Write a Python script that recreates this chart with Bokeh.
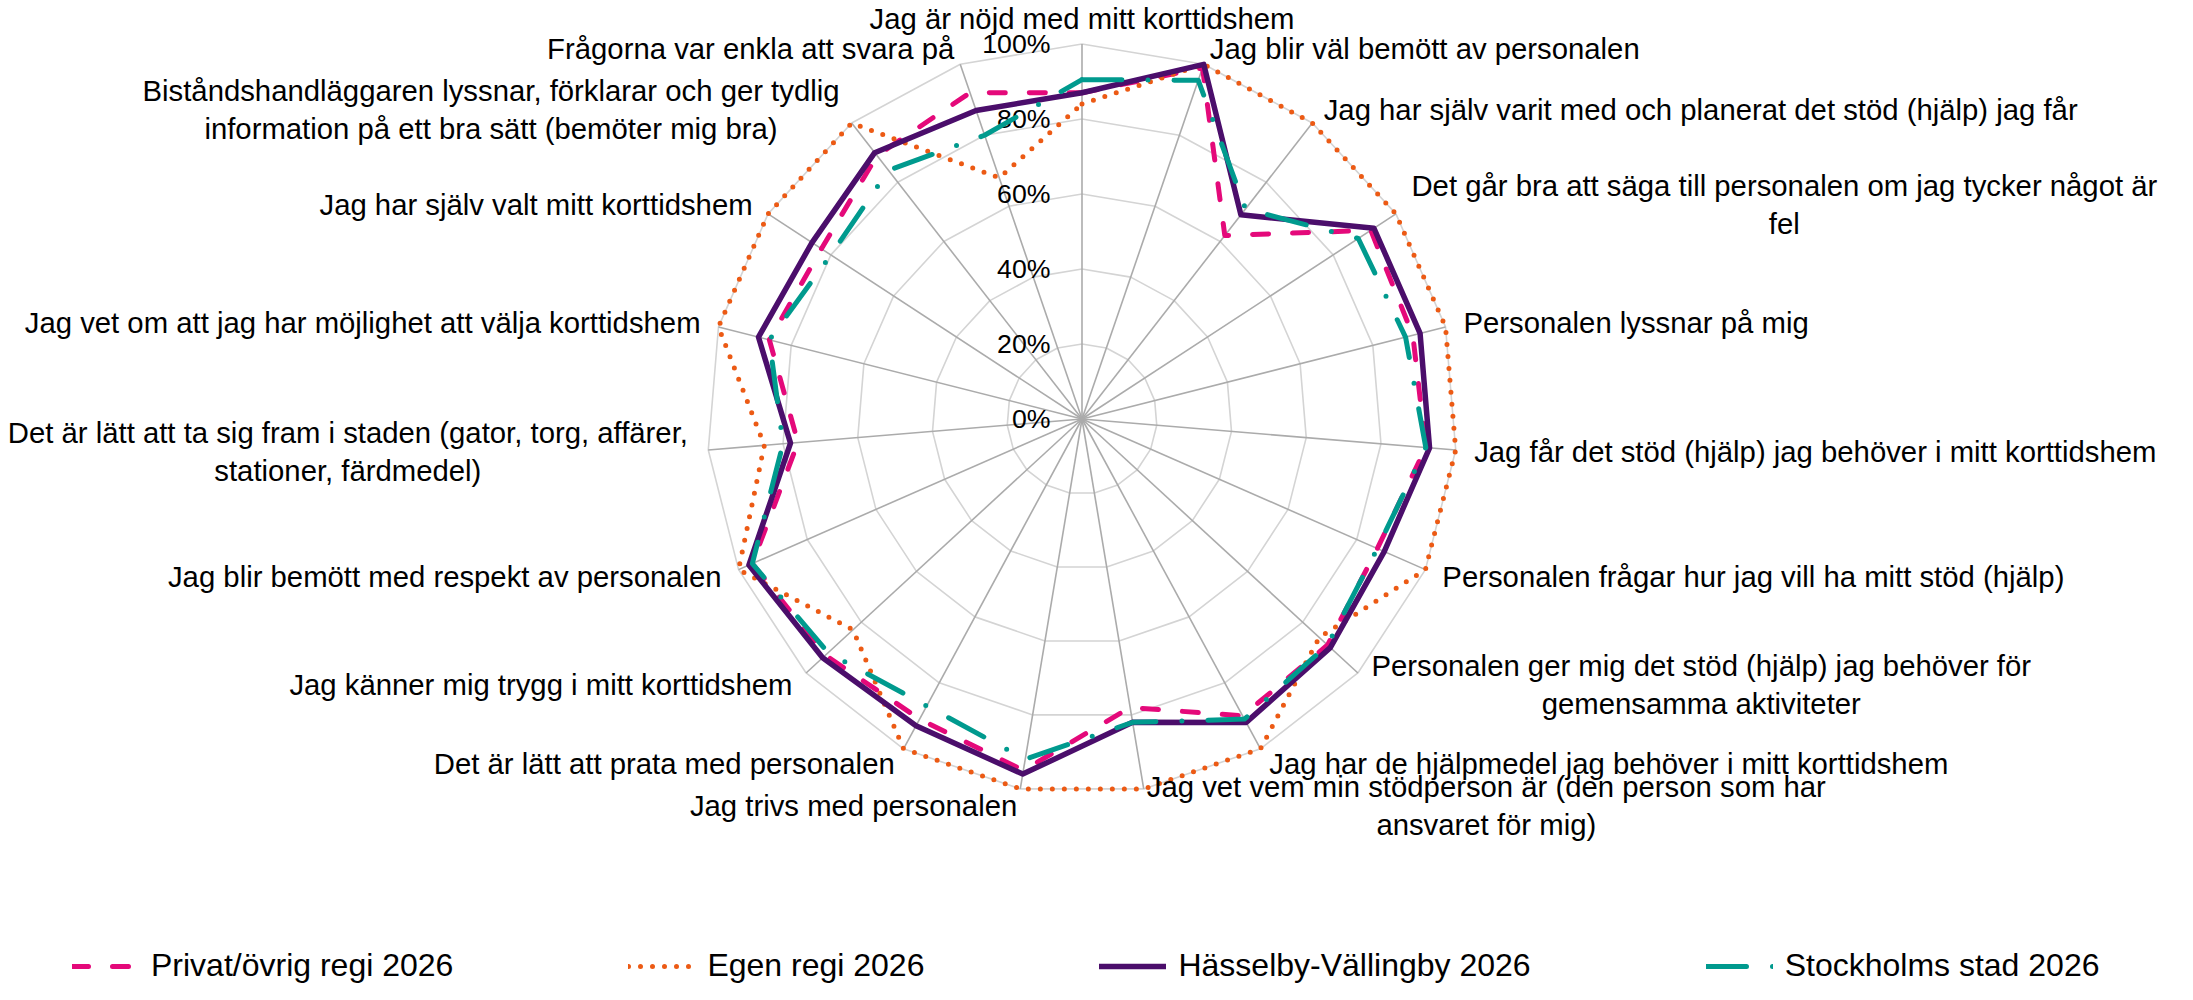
import numpy as np
from bokeh.plotting import figure
from bokeh.models import Range1d, Legend, LegendItem
from bokeh.embed import file_html
from bokeh.resources import INLINE
from bokeh.core.properties import value

# ---------------- data ----------------
categories = [
    "Jag är nöjd med mitt korttidshem",
    "Jag blir väl bemött av personalen",
    "Jag har själv varit med och planerat det stöd (hjälp) jag får",
    "Det går bra att säga till personalen om jag tycker något är\nfel",
    "Personalen lyssnar på mig",
    "Jag får det stöd (hjälp) jag behöver i mitt korttidshem",
    "Personalen frågar hur jag vill ha mitt stöd (hjälp)",
    "Personalen ger mig det stöd (hjälp) jag behöver för\ngemensamma aktiviteter",
    "Jag har de hjälpmedel jag behöver i mitt korttidshem",
    "Jag vet vem min stödperson är (den person som har\nansvaret för mig)",
    "Jag trivs med personalen",
    "Det är lätt att prata med personalen",
    "Jag känner mig trygg i mitt korttidshem",
    "Jag blir bemött med respekt av personalen",
    "Det är lätt att ta sig fram i staden (gator, torg, affärer,\nstationer, färdmedel)",
    "Jag vet om att jag har möjlighet att välja korttidshem",
    "Jag har själv valt mitt korttidshem",
    "Biståndshandläggaren lyssnar, förklarar och ger tydlig\ninformation på ett bra sätt (bemöter mig bra)",
    "Frågorna var enkla att svara på",
]
privat = [0.87, 0.99, 0.62, 0.92, 0.91, 0.92, 0.86, 0.89, 0.90, 0.78,
          0.95, 0.91, 0.93, 0.96, 0.76, 0.86, 0.83, 0.89, 0.92]
egen = [0.84, 1.00, 1.00, 1.00, 1.00, 1.00, 1.00, 0.86, 1.00, 1.00,
        1.00, 1.00, 0.83, 1.00, 0.85, 1.00, 1.00, 1.00, 0.68]
hasselby = [0.87, 1.00, 0.69, 0.93, 0.93, 0.93, 0.88, 0.90, 0.92, 0.82,
            0.96, 0.93, 0.94, 0.97, 0.78, 0.89, 0.86, 0.90, 0.87]
stockholm = [0.905, 0.955, 0.71, 0.88, 0.89, 0.92, 0.86, 0.89, 0.91, 0.82,
             0.92, 0.87, 0.92, 0.96, 0.80, 0.86, 0.80, 0.84, 0.80]
series_names = ["Privat/övrig regi 2026", "Egen regi 2026",
                "Hässelby-Vällingby 2026", "Stockholms stad 2026"]
ring_values = [0.0, 0.2, 0.4, 0.6, 0.8, 1.0]
ring_labels = ["0%", "20%", "40%", "60%", "80%", "100%"]

# ---------------- layout constants ----------------
W, H = 2177, 984
CX, CY = 1081.5, 418.5   # radar centre in frame pixels (from left / top)
R = 375.0                # pixels for 100 %
FONT = "Liberation Sans"
CAT_SIZE = 29.3
TICK_SIZE = 26.7
LEG_SIZE = 32

# approximate Arial advance widths (per 1000 em) for centring 2-line labels
_W = {}
for chars, w in [("ijlí", 222), (" ftI.,/:;!", 278), ("r()-", 333),
                 ("ckvxyzsJ", 500), ("abdeghnopquåäöéL0123456789", 556),
                 ("FTZ", 611), ("ABEKPSVX", 667), ("CDHNRUw", 722),
                 ("GO", 778), ("mM", 833), ("%", 889), ("W", 944)]:
    for c in chars:
        _W[c] = w


def text_px(s, size):
    return sum(_W.get(c, 556) for c in s) * size / 1000.0


n = len(categories)
ang = np.arange(n) * 2 * np.pi / n
sn, cs = np.sin(ang), np.cos(ang)

p = figure(width=W, height=H,
           x_range=Range1d(-CX / R, (W - CX) / R),
           y_range=Range1d(-(H - CY) / R, CY / R),
           x_axis_type=None, y_axis_type=None,
           output_backend="svg", toolbar_location=None, min_border=0)
p.grid.visible = False
p.outline_line_color = None
p.background_fill_color = "white"
p.border_fill_color = "white"

# rings
ring_xs = [list(v * np.append(sn, sn[0])) for v in ring_values[1:]]
ring_ys = [list(v * np.append(cs, cs[0])) for v in ring_values[1:]]
p.multi_line(ring_xs, ring_ys, line_color="#D4D4D4", line_width=1.6)
# spokes
p.segment(x0=np.zeros(n), y0=np.zeros(n), x1=sn, y1=cs,
          line_color="#ABABAB", line_width=1.6)

# ring labels
p.text(x=np.zeros(len(ring_values)), y=ring_values, text=ring_labels,
       x_offset=-31.5, text_align="right", text_baseline="middle",
       text_font=value(FONT), text_font_size=f"{TICK_SIZE}px", text_color="#000000")

# series
styles = [
    (privat, "#E4097A", 5, "16 24"),
    (egen, "#EC5A14", 5, "0 12"),
    (hasselby, "#4B0E6B", 5.5, "solid"),
    (stockholm, "#009A8E", 5, "40 26 0 26"),
]
renderers = []
for vals, col, lw, dash in styles:
    v = np.array(vals + vals[:1])
    xs = v * np.append(sn, sn[0])
    ys = v * np.append(cs, cs[0])
    r = p.line(xs, ys, line_color=col, line_width=lw, line_dash=dash,
               line_cap="round", line_join="round")
    renderers.append(r)

# category labels
for k, lab in enumerate(categories):
    lines = lab.split("\n")
    s, c = sn[k], cs[k]
    if abs(s) < 0.1:
        align, xo, yo = "center", 0.0, -26.0
    else:
        gap = 18.5 * abs(s)
        yo = -17.0 * c
        if len(lines) > 1:
            wmax = max(text_px(t, CAT_SIZE) for t in lines)
            align = "center"
            xo = np.sign(s) * (gap + wmax / 2.0)
        else:
            align = "left" if s > 0 else "right"
            xo = np.sign(s) * gap
    p.text(x=[s], y=[c], text=[lab], x_offset=xo, y_offset=yo,
           text_align=align, text_baseline="middle", text_line_height=1.14,
           text_font=value(FONT), text_font_size=f"{CAT_SIZE}px", text_color="#000000")

legend = Legend(
    items=[LegendItem(label=nm, renderers=[r]) for nm, r in zip(series_names, renderers)],
    orientation="horizontal", location=(72, 0), spacing=175,
    glyph_width=67, glyph_height=20, label_standoff=12, label_height=20,
    label_text_font=FONT, label_text_font_size=f"{LEG_SIZE}px", label_text_color="#000000",
    padding=0, margin=0, border_line_color=None, background_fill_alpha=0)
p.add_layout(legend)

open("out.html", "w").write(file_html(p, INLINE))
